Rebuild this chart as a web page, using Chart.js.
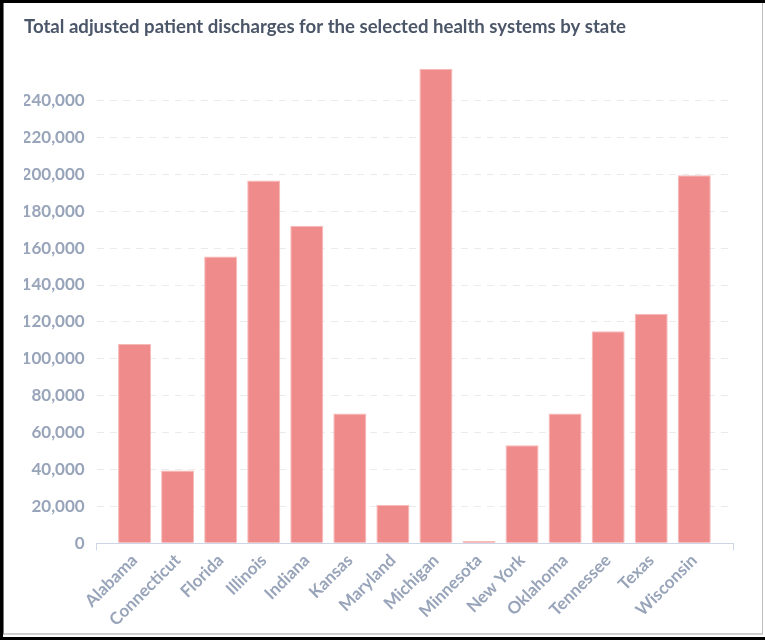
<!DOCTYPE html>
<html>
<head>
<meta charset="utf-8">
<script src="https://cdn.jsdelivr.net/npm/chart.js@4/dist/chart.umd.min.js"></script>
<style>
  html, body { margin: 0; padding: 0; background: #fff; }
  #wrap { position: relative; width: 765px; height: 640px; overflow: hidden; }
  #c { position: absolute; left: 0; top: 0; }
  #frameOuter { position: absolute; left: 0; top: 0; width: 765px; height: 640px; box-sizing: border-box;
    border-top: 3px solid #000; border-left: 3px solid #000; border-bottom: 3px solid #000; pointer-events: none; }
  #frameInner { position: absolute; left: 3px; top: 3px; width: 760px; height: 632px; box-sizing: border-box;
    border-right: 1px solid #bdbdbd; border-bottom: 2px solid #d0d0d0; border-left: 1px solid #777; pointer-events: none; }
</style>
</head>
<body>
<div id="wrap">
  <canvas id="c" width="765" height="640"></canvas>
  <div id="frameOuter"></div>
  <div id="frameInner"></div>
</div>
<script>
const titleText = 'Total adjusted patient discharges for the selected health systems by state';
const states = ['Alabama', 'Connecticut', 'Florida', 'Illinois', 'Indiana', 'Kansas', 'Maryland',
  'Michigan', 'Minnesota', 'New York', 'Oklahoma', 'Tennessee', 'Texas', 'Wisconsin'];
const discharges = [108000, 39400, 155500, 196600, 172100, 70400, 20700,
  257100, 1300, 53100, 70400, 115000, 124400, 199500];
const yTickValues = [0, 20000, 40000, 60000, 80000, 100000, 120000, 140000, 160000, 180000, 200000, 220000, 240000];

const xMin = -0.88, xMax = 13.9;
const axisColor = '#ccd6e6';
const labelColor = '#98a4b9';

new Chart(document.getElementById('c'), {
  type: 'bar',
  data: {
    datasets: [{
      data: states.map((s, i) => ({ x: i, y: discharges[i] })),
      backgroundColor: '#ef8b8a',
      borderColor: '#f7b9b8',
      borderWidth: 1,
      barPercentage: 0.872,
      categoryPercentage: 1
    }]
  },
  options: {
    responsive: false,
    animation: false,
    layout: { padding: { left: 24, right: 32, top: 12, bottom: 10 } },
    plugins: {
      legend: { display: false },
      tooltip: { enabled: false },
      title: {
        display: true,
        text: titleText,
        align: 'start',
        color: '#4b5669',
        font: { family: 'Lato', size: 18.6, weight: 'bold' },
        padding: { top: 4, bottom: 29 }
      }
    },
    scales: {
      x: {
        type: 'linear',
        offset: false,
        min: xMin,
        max: xMax,
        afterBuildTicks: (scale) => {
          scale.ticks = [{ value: xMin }].concat(states.map((s, i) => ({ value: i }))).concat([{ value: xMax }]);
        },
        ticks: {
          autoSkip: false,
          maxRotation: 45,
          minRotation: 45,
          padding: 0,
          color: labelColor,
          font: { family: 'Lato', size: 17, weight: 'bold' },
          callback: (v) => (Number.isInteger(v) && states[v] !== undefined) ? states[v] : ''
        },
        grid: {
          display: true,
          offset: false,
          drawOnChartArea: false,
          drawTicks: true,
          tickLength: 7,
          color: (ctx) => (ctx.tick && (ctx.tick.value === xMin || ctx.tick.value === xMax)) ? axisColor : 'rgba(0,0,0,0)'
        },
        border: { display: true, color: axisColor, width: 1 }
      },
      y: {
        min: 0,
        max: 258000,
        afterBuildTicks: (scale) => {
          scale.ticks = yTickValues.map(v => ({ value: v }));
        },
        afterFit: (scale) => { scale.width = 72.7; },
        ticks: {
          padding: 12,
          color: labelColor,
          font: { family: 'Lato', size: 17, weight: 'bold' },
          callback: (v) => v.toLocaleString('en-US')
        },
        grid: {
          drawTicks: false,
          color: '#ebebeb',
          lineWidth: 1
        },
        border: { display: false, dash: [7, 6] }
      }
    }
  }
});
</script>
</body>
</html>
